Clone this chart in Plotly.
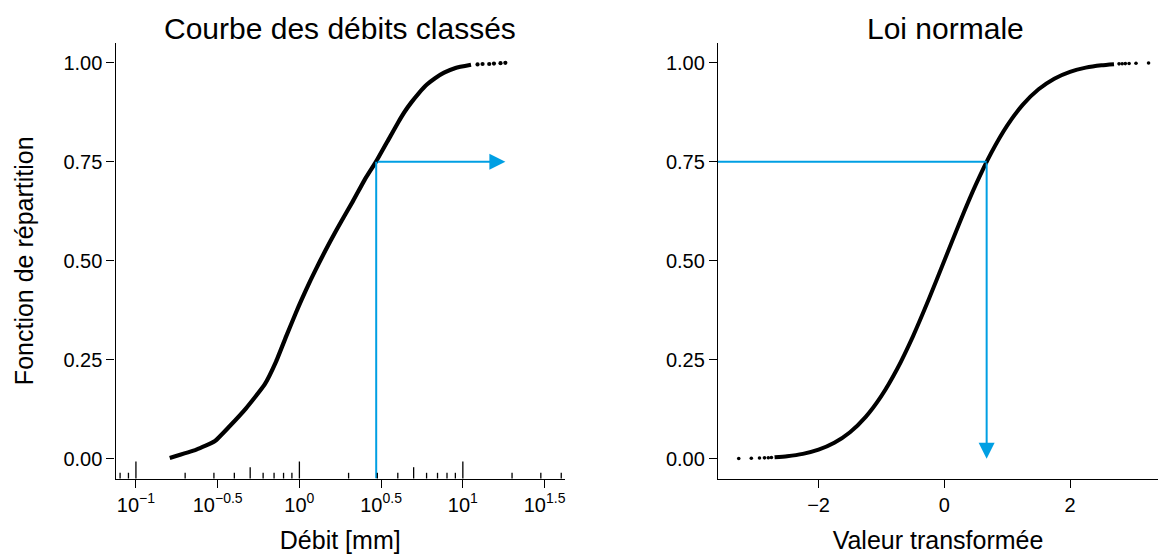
import numpy as np
import plotly.graph_objects as go

W, H = 1158, 554
BLUE = "#009FE3"
FONT = "Liberation Sans, Arial, Helvetica, sans-serif"

# ---------------- Data ----------------
# Left panel: flow duration curve (empirical distribution of discharges)
debit_line = [0.161, 0.234, 0.303, 0.374, 0.473, 0.612, 0.721, 0.830, 0.951, 1.027,
              1.167, 1.340, 1.549, 1.807, 2.123, 2.512, 2.951, 3.508, 4.027, 4.416,
              4.842, 5.370, 6.026, 6.761, 7.674, 9.016, 11.22]
freq_line = [0.002, 0.023, 0.044, 0.082, 0.128, 0.187, 0.246, 0.309, 0.368, 0.400,
             0.450, 0.500, 0.550, 0.600, 0.650, 0.705, 0.751, 0.806, 0.850, 0.877,
             0.900, 0.923, 0.945, 0.961, 0.975, 0.987, 0.995]
debit_tail = [12.3, 13.2, 14.5, 15.5, 17.0, 18.2]
freq_tail = [0.996, 0.997, 0.997, 0.998, 0.999, 1.000]

# Right panel: normal scores vs cumulative frequency
z_line = [-2.70, -2.50, -2.25, -2.00, -1.75, -1.50, -1.25, -1.00, -0.75, -0.50, -0.25,
          0.00, 0.25, 0.50, 0.75, 1.00, 1.25, 1.50, 1.75, 2.00, 2.25, 2.50, 2.70]
p_line = [0.00347, 0.00621, 0.01222, 0.02275, 0.04006, 0.06681, 0.10565, 0.15866,
          0.22663, 0.30854, 0.40129, 0.50000, 0.59871, 0.69146, 0.77337, 0.84134,
          0.89435, 0.93319, 0.95994, 0.97725, 0.98778, 0.99379, 0.99653]
z_tail = [-3.27, -3.07, -2.94, -2.86, -2.80, -2.75, 2.78, 2.83, 2.88, 2.94, 3.05, 3.25]
p_tail = [0.00054, 0.00107, 0.00164, 0.00212, 0.00256, 0.00298,
          0.99728, 0.99767, 0.99801, 0.99836, 0.99886, 0.99942]

# Highlighted quantile
p_target = 0.75
q_target = 2.951
z_target = 0.674

# Axis ticks
y_ticks = [0.0, 0.25, 0.5, 0.75, 1.0]
y_ticktext = ["0.00", "0.25", "0.50", "0.75", "1.00"]
x_log_exponents = [-1, -0.5, 0, 0.5, 1, 1.5]
x_log_ticktext = ["10<sup>\u22121</sup>", "10<sup>\u22120.5</sup>", "10<sup>0</sup>",
                  "10<sup>0.5</sup>", "10<sup>1</sup>", "10<sup>1.5</sup>"]
z_ticks = [-2, 0, 2]
z_ticktext = ["\u22122", "0", "2"]
decades = [-2, -1, 0, 1]
logtick_mults = {"long": [1], "mid": [5], "short": [2, 3, 4, 6, 7, 8, 9]}
logtick_len = {"long": 17, "mid": 11.3, "short": 5.7}

# ---------------- Layout geometry ----------------
y_range = [-0.05, 1.05]
x_log_range = [-1.125, 1.625]
z_range = [-3.6, 3.4]
y_dom = [1 - 478.5 / H, 1 - 43 / H]
x1_dom = [115.5 / W, 565 / W]
x2_dom = [718 / W, 1.0]

fig = go.Figure()

# Left panel
fig.add_trace(go.Scatter(x=debit_line, y=freq_line, mode="lines",
                         line=dict(color="black", width=4.2, shape="spline", smoothing=0.4),
                         xaxis="x", yaxis="y", hoverinfo="skip"))
fig.add_trace(go.Scatter(x=debit_tail, y=freq_tail, mode="markers",
                         marker=dict(color="black", size=4.2),
                         xaxis="x", yaxis="y", hoverinfo="skip"))
fig.add_trace(go.Scatter(x=[q_target, q_target], y=[y_range[0], p_target], mode="lines",
                         line=dict(color=BLUE, width=2), xaxis="x", yaxis="y",
                         hoverinfo="skip"))

# Right panel
fig.add_trace(go.Scatter(x=z_line, y=p_line, mode="lines",
                         line=dict(color="black", width=4, shape="spline", smoothing=0.6),
                         xaxis="x2", yaxis="y2", hoverinfo="skip"))
fig.add_trace(go.Scatter(x=z_tail, y=p_tail, mode="markers",
                         marker=dict(color="black", size=3.6),
                         xaxis="x2", yaxis="y2", hoverinfo="skip"))
fig.add_trace(go.Scatter(x=[z_range[0], z_target], y=[p_target, p_target], mode="lines",
                         line=dict(color=BLUE, width=2), xaxis="x2", yaxis="y2",
                         hoverinfo="skip"))

annotations = [
    # arrows
    dict(xref="x", yref="y", axref="x", ayref="y",
         x=float(np.log10(max(debit_tail))), y=p_target,
         ax=float(np.log10(q_target)), ay=p_target,
         text="", showarrow=True, arrowhead=2, arrowsize=1.6, arrowwidth=2,
         arrowcolor=BLUE, standoff=0, startstandoff=0),
    dict(xref="x2", yref="y2", axref="x2", ayref="y2",
         x=z_target, y=0.0, ax=z_target, ay=p_target,
         text="", showarrow=True, arrowhead=2, arrowsize=1.6, arrowwidth=2,
         arrowcolor=BLUE, standoff=0, startstandoff=0),
    # panel titles
    dict(xref="paper", yref="paper", x=(x1_dom[0] + x1_dom[1]) / 2, y=1 - 28.5 / H,
         xanchor="center", yanchor="middle", showarrow=False,
         text="Courbe des débits classés", font=dict(size=30, color="black", family=FONT)),
    dict(xref="paper", yref="paper", x=945 / W, y=1 - 28.5 / H,
         xanchor="center", yanchor="middle", showarrow=False,
         text="Loi normale", font=dict(size=30, color="black", family=FONT)),
]

# log ticks (annotation_logticks style) on the left x axis
shapes = []
y0p = y_dom[0]
for kind, mults in logtick_mults.items():
    for d in decades:
        for m in mults:
            v = m * 10.0 ** d
            lv = np.log10(v)
            if x_log_range[0] < lv < x_log_range[1]:
                shapes.append(dict(type="line", xref="x", yref="paper",
                                   x0=v, x1=v, y0=y0p, y1=y0p + logtick_len[kind] / H,
                                   line=dict(color="black", width=1.3)))

axis_common = dict(showline=True, linecolor="black", linewidth=1.3, ticks="outside",
                   ticklen=8, tickwidth=1.3, tickcolor="black", showgrid=False,
                   zeroline=False, tickfont=dict(size=20, color="black", family=FONT))

fig.update_layout(
    width=W, height=H,
    margin=dict(l=0, r=0, t=0, b=0),
    paper_bgcolor="white", plot_bgcolor="white",
    showlegend=False,
    font=dict(family=FONT, color="black"),
    xaxis=dict(domain=x1_dom, anchor="y", type="log", range=x_log_range,
               tickmode="array", tickvals=[10.0 ** e for e in x_log_exponents],
               ticktext=x_log_ticktext,
               title=dict(text="Débit [mm]", font=dict(size=25, color="black", family=FONT),
                          standoff=20),
               **axis_common),
    yaxis=dict(domain=y_dom, anchor="x", range=y_range, tickmode="array",
               tickvals=y_ticks, ticktext=y_ticktext,
               title=dict(text="Fonction de répartition",
                          font=dict(size=25, color="black", family=FONT), standoff=22),
               **axis_common),
    xaxis2=dict(domain=x2_dom, anchor="y2", range=z_range, tickmode="array",
                tickvals=z_ticks, ticktext=z_ticktext,
                title=dict(text="Valeur transformée",
                           font=dict(size=25, color="black", family=FONT), standoff=20),
                **axis_common),
    yaxis2=dict(domain=y_dom, anchor="x2", range=y_range, tickmode="array",
                tickvals=y_ticks, ticktext=y_ticktext, **axis_common),
    annotations=annotations,
    shapes=shapes,
)

fig.write_html("out.html", config={"displayModeBar": False},
               post_script="document.body.style.margin='0px';document.body.style.padding='0px';")
